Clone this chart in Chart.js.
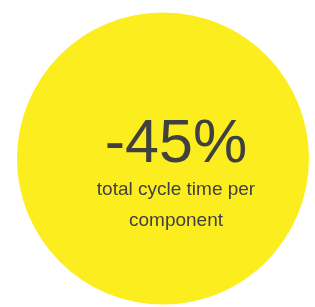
<!DOCTYPE html>
<html>
<head>
<meta charset="utf-8">
<script src="https://cdn.jsdelivr.net/npm/chart.js@4"></script>
<style>
  html, body { margin: 0; padding: 0; background: #fff; }
  #wrap { width: 315px; height: 307px; }
</style>
</head>
<body>
<div id="wrap"><canvas id="chart"></canvas></div>
<script>
// single value shown as a filled circle with the figure in the middle
const categories = ["total cycle time per component"];
const values = [45];
const headline = "-45%";
const captionLines = ["total cycle time per", "component"];

// draws the headline and caption on top of the circle
const centerText = {
  id: "centerText",
  afterDraw(chart) {
    const ctx = chart.ctx;
    const cx = 176;
    ctx.save();
    ctx.fillStyle = "#404040";
    ctx.textAlign = "center";
    ctx.textBaseline = "alphabetic";
    ctx.font = "61px 'Liberation Sans', Arial, sans-serif";
    ctx.fillText(headline, cx, 162);
    ctx.font = "19px 'Liberation Sans', Arial, sans-serif";
    ctx.fillText(captionLines[0], cx, 195);
    ctx.fillText(captionLines[1], cx, 226);
    ctx.restore();
  },
};

new Chart(document.getElementById("chart").getContext("2d"), {
  type: "pie",
  data: {
    labels: categories,
    datasets: [
      {
        data: values,
        backgroundColor: "#fcee1e",
        borderWidth: 0,
      },
    ],
  },
  options: {
    responsive: true,
    maintainAspectRatio: false,
    animation: false,
    layout: { padding: { left: 17, right: 6, top: 12, bottom: 2 } },
    plugins: {
      legend: { display: false },
      tooltip: { enabled: false },
    },
  },
  plugins: [centerText],
});
</script>
</body>
</html>
